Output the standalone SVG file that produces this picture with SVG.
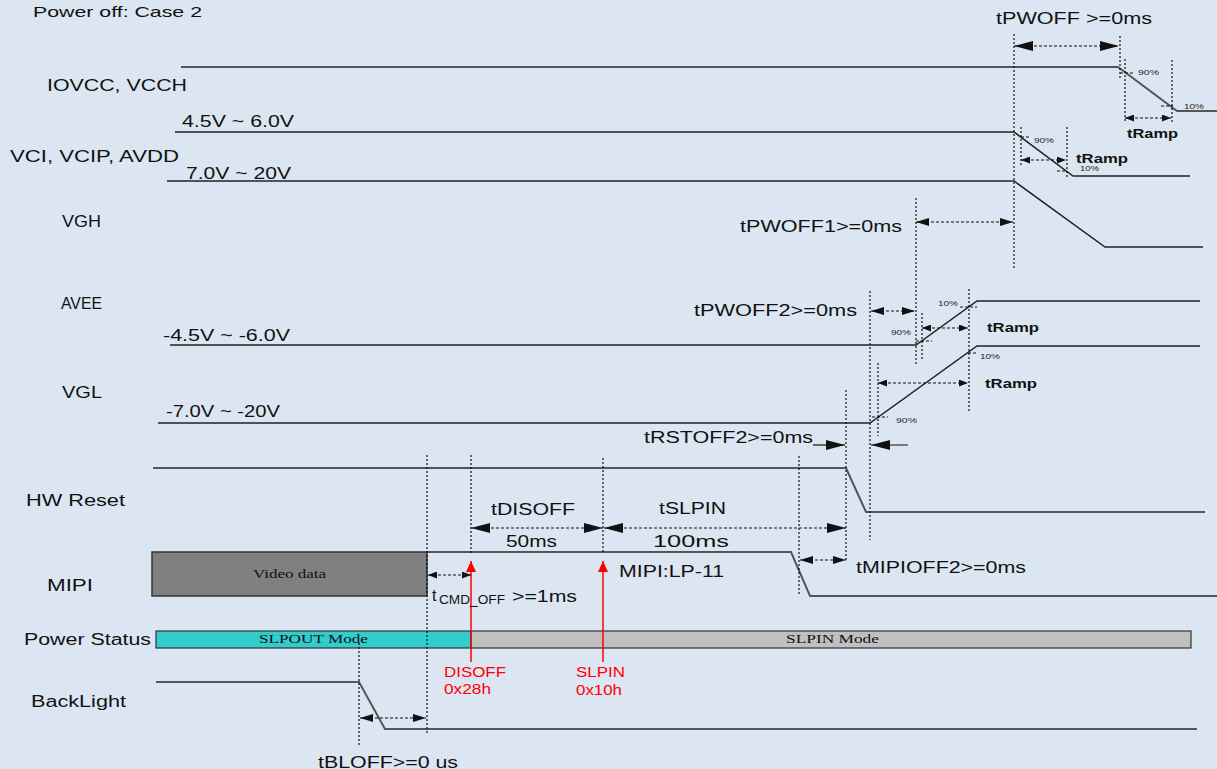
<svg xmlns="http://www.w3.org/2000/svg" width="1217" height="769" viewBox="0 0 1217 769">
<defs>
<style>
.bg{fill:#dce6f2}
.t{font-family:"Liberation Sans",Arial,sans-serif;font-size:16px;fill:#111}
.tt{font-family:"Liberation Sans",Arial,sans-serif;font-size:15px;fill:#111}
.pc{font-family:"Liberation Sans",Arial,sans-serif;font-size:8px;fill:#222}
.tr{font-family:"Liberation Sans",Arial,sans-serif;font-size:13px;font-weight:bold;fill:#111}
.rd{font-family:"Liberation Sans",Arial,sans-serif;font-size:14px;fill:#ff0000}
.sf{font-family:"Liberation Serif","Times New Roman",serif;font-size:13px;fill:#111}
.sig{fill:none;stroke:#222;stroke-width:1.5}
.sigg{fill:none;stroke:#555;stroke-width:2}
.dot{fill:none;stroke:#111;stroke-width:1.2;stroke-dasharray:2,2}
.da{fill:none;stroke:#111;stroke-width:1.2;stroke-dasharray:3,2}
.so{fill:none;stroke:#111;stroke-width:1.2}
.red{fill:none;stroke:#ff0000;stroke-width:1.5}
</style>
<marker id="aL" markerUnits="userSpaceOnUse" markerWidth="19" markerHeight="10" viewBox="0 0 19 10" refX="19" refY="5" orient="auto-start-reverse"><path d="M0,0 L19,5 L0,10 z" fill="#111"/></marker>
<marker id="aM" markerUnits="userSpaceOnUse" markerWidth="13" markerHeight="8" viewBox="0 0 13 8" refX="13" refY="4" orient="auto-start-reverse"><path d="M0,0 L13,4 L0,8 z" fill="#111"/></marker>
<marker id="aS" markerUnits="userSpaceOnUse" markerWidth="9" markerHeight="7" viewBox="0 0 9 7" refX="9" refY="3.5" orient="auto-start-reverse"><path d="M0,0 L9,3.5 L0,7 z" fill="#111"/></marker>
<marker id="aR" markerUnits="userSpaceOnUse" markerWidth="11" markerHeight="10" viewBox="0 0 11 10" refX="11" refY="5" orient="auto"><path d="M0,0 L11,5 L0,10 z" fill="#ff0000"/></marker>
</defs>
<rect class="bg" x="0" y="0" width="1217" height="769"/>
<text class="tt" x="33" y="17" textLength="169" lengthAdjust="spacingAndGlyphs">Power off: Case 2</text>

<g id="iovcc">
<text class="t" x="47" y="91" textLength="140" lengthAdjust="spacingAndGlyphs">IOVCC, VCCH</text>
<path class="sigg" d="M181,67 H1118 L1177,111 H1217"/>
</g>
<g id="vci">
<text class="t" x="10" y="162" textLength="169" lengthAdjust="spacingAndGlyphs">VCI, VCIP, AVDD</text>
<text class="t" x="182" y="127" textLength="112" lengthAdjust="spacingAndGlyphs">4.5V ~ 6.0V</text>
<path class="sig" d="M175,132 H1014 L1073,176 H1190"/>
</g>
<g id="vgh">
<text class="t" x="62" y="227" textLength="39" lengthAdjust="spacingAndGlyphs">VGH</text>
<text class="t" x="186" y="179" textLength="105" lengthAdjust="spacingAndGlyphs">7.0V ~ 20V</text>
<path class="sig" d="M167,181 H1014 L1105,247 H1203"/>
</g>
<g id="avee">
<text class="t" x="61" y="309" textLength="41" lengthAdjust="spacingAndGlyphs">AVEE</text>
<text class="t" x="163" y="341" textLength="127" lengthAdjust="spacingAndGlyphs">-4.5V ~ -6.0V</text>
<path class="sig" d="M170,345 H916 L977,301 H1200"/>
</g>
<g id="vgl">
<text class="t" x="62" y="398" textLength="40" lengthAdjust="spacingAndGlyphs">VGL</text>
<text class="t" x="166" y="417" textLength="114" lengthAdjust="spacingAndGlyphs">-7.0V ~ -20V</text>
<path class="sig" d="M158,423 H870 L977,346 H1200"/>
</g>
<g id="hwreset">
<text class="t" x="26" y="506" textLength="99" lengthAdjust="spacingAndGlyphs">HW Reset</text>
<path class="sigg" d="M153,468 H846 L866,512 H1205"/>
</g>
<g id="mipi">
<text class="t" x="47" y="591" textLength="46" lengthAdjust="spacingAndGlyphs">MIPI</text>
<rect x="152" y="552" width="275" height="44" fill="#808080" stroke="#333" stroke-width="1.5"/>
<text class="sf" x="253" y="578" textLength="73" lengthAdjust="spacingAndGlyphs">Video data</text>
<path class="sigg" d="M427,552 H791 L810,596 H1217"/>
<text class="t" x="619" y="577" textLength="105" lengthAdjust="spacingAndGlyphs">MIPI:LP-11</text>
</g>
<g id="powerstatus">
<text class="t" x="24" y="645" textLength="127" lengthAdjust="spacingAndGlyphs">Power Status</text>
<rect x="156" y="631" width="315" height="17" fill="#33cccc" stroke="#333" stroke-width="1.2"/>
<rect x="471" y="631" width="720" height="17" fill="#c0c0c0" stroke="#333" stroke-width="1.2"/>
<text class="sf" x="259" y="643" textLength="109" lengthAdjust="spacingAndGlyphs">SLPOUT Mode</text>
<text class="sf" x="786" y="643" textLength="93" lengthAdjust="spacingAndGlyphs">SLPIN Mode</text>
</g>
<g id="backlight">
<text class="t" x="31" y="707" textLength="95" lengthAdjust="spacingAndGlyphs">BackLight</text>
<path class="sigg" d="M156,682 H359 L385,729 H1197"/>
</g>
<g id="commands">
<path class="red" d="M471,662 V561" marker-end="url(#aR)"/>
<path class="red" d="M603,662 V561" marker-end="url(#aR)"/>
<text class="rd" x="444" y="677" textLength="62" lengthAdjust="spacingAndGlyphs">DISOFF</text>
<text class="rd" x="444" y="694" textLength="47" lengthAdjust="spacingAndGlyphs">0x28h</text>
<text class="rd" x="576" y="677" textLength="49" lengthAdjust="spacingAndGlyphs">SLPIN</text>
<text class="rd" x="576" y="695" textLength="46" lengthAdjust="spacingAndGlyphs">0x10h</text>
</g>

<g id="connectors">
<path class="dot" d="M1014,34 V268 M1120,36 V78 M1125,59 V122 M1172,60 V122 M1021,127 V165 M1067,127 V178 M916,198 V365 M922,313 V359 M969,289 V413 M870,291 V540 M878,363 V436 M846,390 V560 M799,456 V594 M603,458 V553 M471,455 V553 M427,455 V733 M359,643 V746"/>
<path class="da" d="M1120,73 H1133 M1161,106 H1173 M1021,137 H1031 M1057,171 H1067 M916,341 H932 M960,307 H977 M968,353 H978 M872,417 H888"/>
<path class="da" d="M1014,46 H1119" marker-start="url(#aL)" marker-end="url(#aL)"/>
<path class="da" d="M1125,118 H1171" marker-start="url(#aS)" marker-end="url(#aS)"/>
<path class="da" d="M1021,160 H1066" marker-start="url(#aS)" marker-end="url(#aS)"/>
<path class="da" d="M916,222 H1013" marker-start="url(#aM)" marker-end="url(#aM)"/>
<path class="da" d="M871,311 H915" marker-start="url(#aM)" marker-end="url(#aM)"/>
<path class="da" d="M922,328 H968" marker-start="url(#aS)" marker-end="url(#aS)"/>
<path class="da" d="M878,383 H968" marker-start="url(#aS)" marker-end="url(#aS)"/>
<path class="so" d="M813,445 H845" marker-end="url(#aL)"/>
<path class="so" d="M908,445 H871" marker-end="url(#aL)"/>
<path class="da" d="M471,528 H603" marker-start="url(#aL)" marker-end="url(#aL)"/>
<path class="da" d="M604,528 H846" marker-start="url(#aL)" marker-end="url(#aL)"/>
<path class="da" d="M428,575 H471" marker-start="url(#aS)" marker-end="url(#aS)"/>
<path class="da" d="M800,560 H846" marker-start="url(#aM)" marker-end="url(#aM)"/>
<path class="da" d="M360,718 H426" marker-start="url(#aM)" marker-end="url(#aM)"/>
</g>

<g id="labels">
<text class="t" x="996" y="24" textLength="156" lengthAdjust="spacingAndGlyphs">tPWOFF &gt;=0ms</text>
<text class="pc" x="1138" y="75" textLength="21" lengthAdjust="spacingAndGlyphs">90%</text>
<text class="pc" x="1184" y="109" textLength="20" lengthAdjust="spacingAndGlyphs">10%</text>
<text class="tr" x="1127" y="138" textLength="51" lengthAdjust="spacingAndGlyphs">tRamp</text>
<text class="pc" x="1034" y="143" textLength="20" lengthAdjust="spacingAndGlyphs">90%</text>
<text class="pc" x="1080" y="171" textLength="19" lengthAdjust="spacingAndGlyphs">10%</text>
<text class="tr" x="1076" y="163" textLength="52" lengthAdjust="spacingAndGlyphs">tRamp</text>
<text class="t" x="740" y="232" textLength="162" lengthAdjust="spacingAndGlyphs">tPWOFF1&gt;=0ms</text>
<text class="t" x="694" y="316" textLength="163" lengthAdjust="spacingAndGlyphs">tPWOFF2&gt;=0ms</text>
<text class="pc" x="938" y="306" textLength="20" lengthAdjust="spacingAndGlyphs">10%</text>
<text class="pc" x="891" y="335" textLength="20" lengthAdjust="spacingAndGlyphs">90%</text>
<text class="tr" x="987" y="332" textLength="52" lengthAdjust="spacingAndGlyphs">tRamp</text>
<text class="pc" x="980" y="359" textLength="20" lengthAdjust="spacingAndGlyphs">10%</text>
<text class="pc" x="896" y="423" textLength="21" lengthAdjust="spacingAndGlyphs">90%</text>
<text class="tr" x="985" y="388" textLength="52" lengthAdjust="spacingAndGlyphs">tRamp</text>
<text class="t" x="644" y="443" textLength="169" lengthAdjust="spacingAndGlyphs">tRSTOFF2&gt;=0ms</text>
<text class="t" x="491" y="515" textLength="84" lengthAdjust="spacingAndGlyphs">tDISOFF</text>
<text class="t" x="506" y="547" textLength="51" lengthAdjust="spacingAndGlyphs">50ms</text>
<text class="t" x="659" y="514" textLength="67" lengthAdjust="spacingAndGlyphs">tSLPIN</text>
<text class="t" x="653" y="547" textLength="76" lengthAdjust="spacingAndGlyphs">100ms</text>
<text class="t" x="856" y="573" textLength="170" lengthAdjust="spacingAndGlyphs">tMIPIOFF2&gt;=0ms</text>
<text class="t" x="432" y="601">t<tspan x="439" y="604" font-size="12" textLength="66" lengthAdjust="spacingAndGlyphs">CMD_OFF</tspan><tspan x="512" y="602" textLength="65" lengthAdjust="spacingAndGlyphs">&gt;=1ms</tspan></text>
<text class="t" x="318" y="768" textLength="140" lengthAdjust="spacingAndGlyphs">tBLOFF&gt;=0 us</text>
</g>
</svg>
